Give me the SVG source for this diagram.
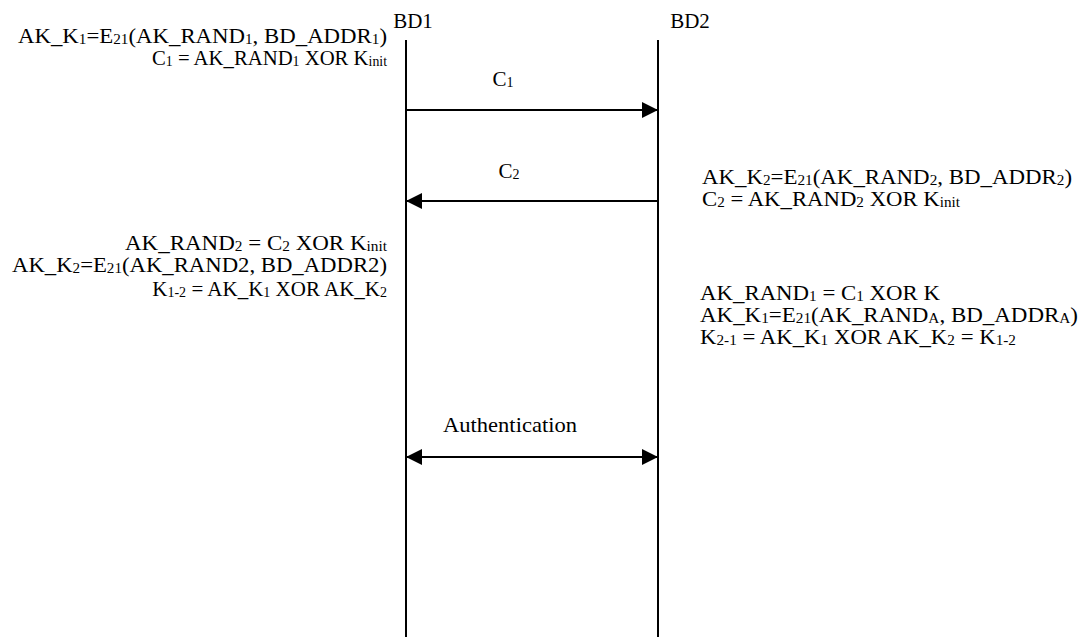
<svg xmlns="http://www.w3.org/2000/svg" width="1088" height="637" viewBox="0 0 1088 637">
<style>
text{font-family:"Liberation Serif","Times New Roman",serif;font-size:21px;fill:#000}
.s{font-size:14px;baseline-shift:-1px}
.r{text-anchor:end}
.m{text-anchor:middle}
.ln{stroke:#000;stroke-width:2;fill:none}
</style>
<defs>
<marker id="ah" viewBox="0 0 16 16" refX="15" refY="8" markerWidth="16" markerHeight="16" markerUnits="userSpaceOnUse" orient="auto-start-reverse">
<path d="M0,0 L16,8 L0,16 Z" fill="#000"/>
</marker>
</defs>
<g id="bd1">
<text class="m" x="413" y="28">BD1</text>
<line class="ln" x1="406" y1="40" x2="406" y2="637"/>
</g>
<g id="bd2">
<text class="m" x="690" y="28">BD2</text>
<line class="ln" x1="658" y1="40" x2="658" y2="637"/>
</g>
<g id="connectors">
<line class="ln" x1="407" y1="110" x2="657" y2="110" marker-end="url(#ah)"/>
<line class="ln" x1="657" y1="201" x2="407" y2="201" marker-end="url(#ah)"/>
<line class="ln" x1="407" y1="457" x2="657" y2="457" marker-start="url(#ah)" marker-end="url(#ah)"/>
<text class="m" x="503" y="86">C<tspan class="s">1</tspan></text>
<text class="m" x="509" y="178">C<tspan class="s">2</tspan></text>
<text class="m" x="510" y="432" textLength="134" lengthAdjust="spacingAndGlyphs">Authentication</text>
</g>
<g id="bd1-calc1">
<text class="r" x="387" y="43" textLength="369" lengthAdjust="spacingAndGlyphs">AK_K<tspan class="s">1</tspan>=E<tspan class="s">21</tspan>(AK_RAND<tspan class="s">1</tspan>, BD_ADDR<tspan class="s">1</tspan>)</text>
<text class="r" x="387" y="65" textLength="235" lengthAdjust="spacingAndGlyphs">C<tspan class="s">1</tspan> = AK_RAND<tspan class="s">1</tspan> XOR K<tspan class="s">init</tspan></text>
</g>
<g id="bd2-calc1">
<text x="702" y="184" textLength="370" lengthAdjust="spacingAndGlyphs">AK_K<tspan class="s">2</tspan>=E<tspan class="s">21</tspan>(AK_RAND<tspan class="s">2</tspan>, BD_ADDR<tspan class="s">2</tspan>)</text>
<text x="702" y="206" textLength="258" lengthAdjust="spacingAndGlyphs">C<tspan class="s">2</tspan> = AK_RAND<tspan class="s">2</tspan> XOR K<tspan class="s">init</tspan></text>
</g>
<g id="bd1-calc2">
<text class="r" x="387" y="250" textLength="262" lengthAdjust="spacingAndGlyphs">AK_RAND<tspan class="s">2</tspan> = C<tspan class="s">2</tspan> XOR K<tspan class="s">init</tspan></text>
<text class="r" x="387" y="272" textLength="375" lengthAdjust="spacingAndGlyphs">AK_K<tspan class="s">2</tspan>=E<tspan class="s">21</tspan>(AK_RAND2, BD_ADDR2)</text>
<text class="r" x="387" y="296">K<tspan class="s">1-2</tspan> = AK_K<tspan class="s">1</tspan> XOR AK_K<tspan class="s">2</tspan></text>
</g>
<g id="bd2-calc2">
<text x="700" y="300" textLength="240" lengthAdjust="spacingAndGlyphs">AK_RAND<tspan class="s">1</tspan> = C<tspan class="s">1</tspan> XOR K</text>
<text x="700" y="322" textLength="378" lengthAdjust="spacingAndGlyphs">AK_K<tspan class="s">1</tspan>=E<tspan class="s">21</tspan>(AK_RAND<tspan class="s">A</tspan>, BD_ADDR<tspan class="s">A</tspan>)</text>
<text x="700" y="344" textLength="316" lengthAdjust="spacingAndGlyphs">K<tspan class="s">2-1</tspan> = AK_K<tspan class="s">1</tspan> XOR AK_K<tspan class="s">2</tspan> = K<tspan class="s">1-2</tspan></text>
</g>
</svg>
